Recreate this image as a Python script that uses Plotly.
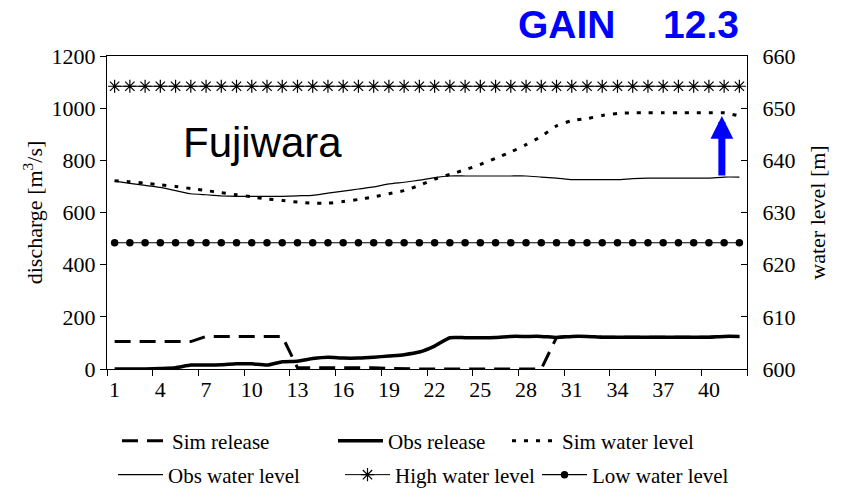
import plotly.graph_objects as go

days = list(range(1, 43))
sim_release = [105, 105, 105, 105, 105, 105, 125, 125, 125, 125, 125, 125,
               5, 5, 5, 5, 5, 5, 2, 0, 0, 0, 0, 0, 0, 0, 0, 0, 0,
               121, 125, 125, 122, 122, 122, 122, 122, 122, 122, 122, 125, 125]
obs_release = [0, 0, 0, 2, 5, 15, 15, 16, 20, 20, 15, 28, 30, 40, 45, 42, 42, 45,
               50, 55, 65, 88, 120, 120, 120, 121, 125, 125, 125, 121, 125, 125,
               122, 122, 122, 122, 122, 122, 122, 122, 125, 125]
sim_level = [636.1, 635.9, 635.6, 635.3, 635.0, 634.6, 634.2, 633.8, 633.4, 633.0,
             632.6, 632.3, 632.0, 631.8, 631.8, 632.1, 632.5, 633.0, 633.6, 634.2,
             635.2, 636.4, 637.3, 638.2, 639.2, 640.4, 641.6, 643.0, 644.6, 646.6,
             647.6, 648.0, 648.6, 649.0, 649.1, 649.1, 649.1, 649.1, 649.1, 649.1,
             649.1, 648.5]
obs_level = [636.0, 635.6, 635.2, 634.8, 634.2, 633.6, 633.4, 633.2, 633.1, 633.1,
             633.1, 633.1, 633.2, 633.3, 633.7, 634.1, 634.5, 634.9, 635.5, 635.8,
             636.2, 636.7, 637.0, 637.0, 637.0, 637.0, 637.0, 637.0, 636.8, 636.6,
             636.3, 636.3, 636.3, 636.3, 636.5, 636.6, 636.6, 636.6, 636.6, 636.6,
             636.8, 636.8]
high_level = [654.2] * 42
low_level = [624.2] * 42
x_labels = [1, 4, 7, 10, 13, 16, 19, 22, 25, 28, 31, 34, 37, 40]
x_bounds = [0.5, 3.5, 6.5, 9.5, 12.5, 15.5, 18.5, 21.5, 24.5, 27.5, 30.5, 33.5,
            36.5, 39.5, 42.5]
station = "Fujiwara"
gain_label = "GAIN"
gain_value = "12.3"

SERIF = "Liberation Serif, Times New Roman, serif"
SANS = "Liberation Sans, Arial, sans-serif"

fig = go.Figure()
fig.add_trace(go.Scatter(x=days, y=sim_release, name="Sim release", mode="lines",
                         line=dict(color="black", width=3, dash="16px,9px"),
                         legend="legend"))
fig.add_trace(go.Scatter(x=days, y=obs_release, name="Obs release", mode="lines",
                         line=dict(color="black", width=3.5, shape="spline", smoothing=0.5),
                         legend="legend2"))
fig.add_trace(go.Scatter(x=days, y=sim_level, name="Sim water level", mode="lines",
                         yaxis="y2",
                         line=dict(color="black", width=3, dash="4px,8px", shape="spline", smoothing=0.5),
                         legend="legend3"))
fig.add_trace(go.Scatter(x=days, y=obs_level, name="Obs water level", mode="lines",
                         yaxis="y2",
                         line=dict(color="black", width=1.2, shape="spline", smoothing=0.5),
                         legend="legend4"))
fig.add_trace(go.Scatter(x=days, y=high_level, name="High water level", mode="lines+markers",
                         yaxis="y2",
                         line=dict(color="black", width=1),
                         marker=dict(symbol="asterisk-open", size=11,
                                     line=dict(color="black", width=1.2)),
                         legend="legend5"))
fig.add_trace(go.Scatter(x=days, y=low_level, name="Low water level", mode="lines+markers",
                         yaxis="y2",
                         line=dict(color="black", width=1.2),
                         marker=dict(symbol="circle", size=7.5, color="black"),
                         legend="legend6"))

# arrow showing the gain at day 41
i = 40
fig.add_annotation(x=days[i] - 0.15, y=sim_level[i] - 0.6, xref="x", yref="y2",
                   ax=days[i] - 0.15, ay=obs_level[i], axref="x", ayref="y2",
                   showarrow=True, arrowhead=2, arrowwidth=7, arrowsize=0.65,
                   arrowcolor="#0000FF", text="", standoff=0)

fig.add_annotation(x=(262 - 107) / 640, y=(369 - 142) / 313, xref="paper", yref="paper",
                   xanchor="center", yanchor="middle", text=station,
                   showarrow=False, font=dict(family=SANS, size=42, color="black"))
fig.add_annotation(x=(618 - 107) / 640, y=(369 - 25) / 313, xref="paper", yref="paper",
                   xanchor="right", yanchor="middle", text=gain_label, showarrow=False,
                   font=dict(family=SANS, size=39, color="#0000FF", weight="bold"))
fig.add_annotation(x=(741 - 107) / 640, y=(369 - 25) / 313, xref="paper", yref="paper",
                   xanchor="right", yanchor="middle", text=gain_value, showarrow=False,
                   font=dict(family=SANS, size=39, color="#0000FF", weight="bold"))

legend_common = dict(orientation="v", bgcolor="rgba(0,0,0,0)", borderwidth=0,
                     font=dict(family=SERIF, size=21, color="black"),
                     xanchor="left", yanchor="middle", itemwidth=45)
pos = {"legend": (117, 441), "legend2": (333, 441), "legend3": (507, 441),
       "legend4": (113, 475), "legend5": (340, 475), "legend6": (537, 475)}
legends = {}
for k, (px, py) in pos.items():
    legends[k] = dict(legend_common, x=(px - 107) / 640, y=(369 - py) / 313)

fig.update_layout(
    width=842, height=493,
    margin=dict(l=107, r=95, t=56, b=124, autoexpand=False),
    paper_bgcolor="white", plot_bgcolor="white",
    font=dict(family=SERIF, size=22, color="black"),
    showlegend=True,
    xaxis=dict(range=[0.5, 42.5], tickmode="array", tickvals=x_labels,
               ticktext=[str(v) for v in x_labels], ticks="", showgrid=False,
               zeroline=False, showline=True, linecolor="black", linewidth=1.3,
               mirror=True, automargin=False,
               minor=dict(tickmode="array", tickvals=x_bounds, ticks="outside",
                          ticklen=6, tickcolor="black", tickwidth=1.2, showgrid=False),
               tickfont=dict(family=SERIF, size=22)),
    yaxis=dict(range=[0, 1200], dtick=200, ticks="outside", ticklen=6,
               tickcolor="black", showgrid=False, zeroline=False, showline=True,
               linecolor="black", linewidth=1.3, automargin=False,
               title=dict(text="discharge [m<sup>3</sup>/s]", standoff=2,
                          font=dict(family=SERIF, size=22)),
               tickfont=dict(family=SERIF, size=22)),
    yaxis2=dict(range=[600, 660], dtick=10, overlaying="y", side="right",
                ticks="inside", ticklen=6, tickcolor="black", showgrid=False,
                zeroline=False, showline=True, linecolor="black", linewidth=1.3,
                automargin=False, ticklabelstandoff=10,
                title=dict(text="water level [m]", standoff=15,
                           font=dict(family=SERIF, size=22)),
                tickfont=dict(family=SERIF, size=22)),
    **legends,
)

fig.write_html("out.html")
